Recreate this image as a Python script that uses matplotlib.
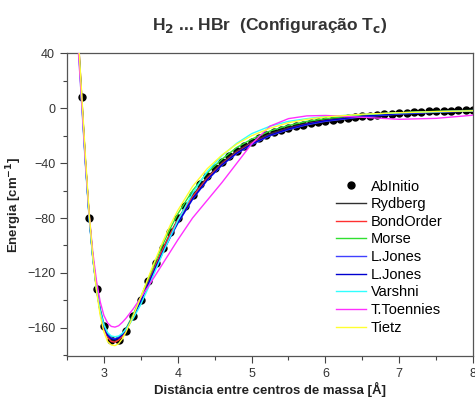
import numpy as np
import matplotlib
matplotlib.use('Agg')
import matplotlib.pyplot as plt
from matplotlib.ticker import MultipleLocator

plt.rcParams['font.family'] = ['Liberation Sans', 'DejaVu Sans']

# ab initio points (R in Angstrom, E in cm-1)
r_ab = [2.7, 2.8, 2.9, 3.0, 3.1, 3.2, 3.3, 3.4, 3.5, 3.6, 3.7, 3.8, 3.9, 4.0,
        4.1, 4.2, 4.3, 4.4, 4.5, 4.6, 4.7, 4.8, 4.9, 5.0, 5.1, 5.2, 5.3, 5.4,
        5.5, 5.6, 5.7, 5.8, 5.9, 6.0, 6.1, 6.2, 6.3, 6.4, 6.5, 6.6, 6.7, 6.8,
        6.9, 7.0, 7.1, 7.2, 7.3, 7.4, 7.5, 7.6, 7.7, 7.8, 7.9, 8.0]
e_ab = [8.5, -80, -132, -159, -169, -169, -162.5, -151.5, -139.5, -126, -113,
        -101.5, -90.3, -80, -71, -63, -55.5, -49.4, -43.8, -39.2, -34.8, -30.8,
        -27.5, -24.4, -21.8, -19.6, -17.6, -16.0, -14.5, -13.2, -12.0, -11.0,
        -10.0, -9.2, -8.4, -7.7, -7.0, -6.4, -5.8, -5.3, -4.8, -4.3, -3.9, -3.5,
        -3.2, -2.9, -2.6, -2.3, -2.1, -1.9, -1.7, -1.4, -1.2, -1.0]

# fitted curves, read at these distances
r_fit = [2.6, 2.65, 2.7, 2.75, 2.8, 2.85, 2.9, 2.95, 3.0, 3.05, 3.1, 3.15, 3.2,
         3.25, 3.3, 3.4, 3.5, 3.6, 3.7, 3.8, 3.9, 4.0, 4.2, 4.4, 4.6, 4.8, 5.0,
         5.25, 5.5, 5.75, 6.0, 6.5, 7.0, 7.5, 8.0]
rydberg = [110, 55, 8, -38, -78, -108, -131, -148, -159, -166, -169.5, -170,
           -168.5, -165.5, -161.5, -151, -139, -126.5, -114, -102, -91, -81,
           -63.5, -50, -39.5, -31, -24.5, -18.5, -14, -11, -8.7, -5.5, -3.5,
           -2.3, -1.5]
bondorder = [108, 54, 8, -38, -78, -109, -132, -149, -160, -167, -170, -170.5,
             -169, -166, -162, -151.5, -139.5, -127, -114.5, -102.5, -91.5,
             -81.5, -64.5, -51, -40.5, -32, -25.5, -19.5, -15, -11.5, -9, -5.8,
             -3.8, -2.5, -1.6]
morse = [105, 52, 6, -39, -78, -108, -130, -146, -157, -164, -167.5, -168,
         -167, -164.5, -160.5, -150, -137.5, -124.5, -111.5, -99, -87.5, -77,
         -60, -47, -37, -28.5, -22.5, -16.5, -12.5, -9.5, -7.5, -4.8, -3.2,
         -2.2, -1.5]
ljones1 = [100, 50, 5, -40, -79, -109, -131, -147, -158, -164.5, -167.5, -168,
           -167, -164.5, -161, -151.5, -140.5, -128.5, -116.5, -105, -94, -84,
           -66.5, -52.5, -41.5, -33, -26.5, -20, -15.5, -12, -9.5, -6.2, -4.2,
           -2.9, -2.0]
ljones2 = [102, 51, 6, -39, -79, -109, -131.5, -148, -159, -165.5, -168,
           -168.5, -167.5, -165, -161.5, -152, -140.5, -128, -116, -104.5,
           -93.5, -83.5, -66, -52, -41, -32.5, -26, -19.5, -15, -11.5, -9,
           -5.8, -3.8, -2.5, -1.6]
varshni = [100, 48, 2, -42, -80, -110, -132, -148, -158, -163.5, -166, -166.5,
           -166, -164, -161, -153, -143, -131, -118, -105.5, -93.5, -82, -62,
           -46, -34.5, -25.5, -18.5, -13, -9.5, -7.5, -6, -4.4, -3.3, -2.5,
           -1.8]
toennies = [95, 45, 3, -40, -77, -105, -126, -141, -151, -156.5, -159, -159.5,
            -158.5, -156, -153, -146, -138, -130, -121.5, -113, -104.5, -96,
            -80, -67, -54, -40, -26, -13, -7.5, -5.5, -5.2, -6.5, -8, -7.3, -5]
tietz = [105, 55, 10, -35, -76, -108, -133, -151, -163, -170, -172.5, -173,
         -171.5, -168, -163, -151, -137.5, -123.5, -110, -97, -85, -74.5, -57,
         -44, -34, -26, -20, -14.5, -10.5, -8, -6.3, -4.3, -3.2, -2.4, -1.8]

curves = [
    ('Rydberg', rydberg, '#303030'),
    ('BondOrder', bondorder, '#ff3030'),
    ('Morse', morse, '#30e030'),
    ('L.Jones', ljones1, '#4040ff'),
    ('L.Jones', ljones2, '#0000d0'),
    ('Varshni', varshni, '#30ffff'),
    ('T.Toennies', toennies, '#ff30ff'),
    ('Tietz', tietz, '#ffff30'),
]

fig = plt.figure(figsize=(4.75, 3.99), dpi=100)
ax = fig.add_axes([0.141, 0.108, 0.855, 0.758])

ax.plot(r_ab, e_ab, 'o', color='black', ms=5, label='AbInitio', zorder=2)
for name, vals, col in curves:
    ax.plot(r_fit, vals, '-', color=col, lw=1.0, label=name, zorder=3)

ax.set_xlim(2.5, 8)
ax.set_ylim(-180.5, 40)
ax.xaxis.set_major_locator(MultipleLocator(1))
ax.xaxis.set_minor_locator(MultipleLocator(0.5))
ax.yaxis.set_major_locator(MultipleLocator(40))
ax.yaxis.set_minor_locator(MultipleLocator(20))
ax.set_xticks([3, 4, 5, 6, 7, 8])
ax.tick_params(which='major', length=5, width=0.8, color='#444444',
               labelsize=9, labelcolor='#333333', direction='out')
ax.tick_params(axis='x', which='major', pad=4)
ax.tick_params(which='minor', length=3, width=0.8, color='#444444',
               direction='out')
for sp in ax.spines.values():
    sp.set_color('#555555')
    sp.set_linewidth(0.9)

ax.set_xlabel('Distância entre centros de massa [Å]', fontsize=9.5,
              fontweight='bold', color='#222222', labelpad=1)
ax.set_ylabel('Energia [cm$^{\\mathbf{-1}}$]', fontsize=9.5, fontweight='bold',
              color='#222222', labelpad=2)
fig.text(0.568, 0.937, 'H$_{\\mathbf{2}}$ ... HBr  (Configuração T$_{\\mathbf{c}}$)',
         ha='center', va='center', fontsize=12.5, fontweight='bold',
         color='#333333')

ax.legend(loc='upper left', bbox_to_anchor=(0.707, 0.55),
          bbox_transform=fig.transFigure, frameon=False, fontsize=10.5,
          handlelength=2.1, handletextpad=0.3, labelspacing=0.25,
          borderpad=0, borderaxespad=0)

fig.savefig('out.png', dpi=100)
